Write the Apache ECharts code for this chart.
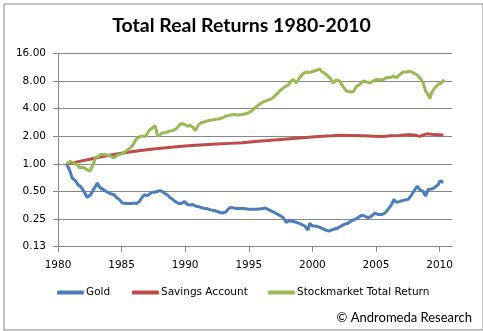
<!DOCTYPE html>
<html>
<head>
<meta charset="utf-8">
<script src="https://cdn.jsdelivr.net/npm/echarts@6/dist/echarts.min.js"></script>
<style>
html,body{margin:0;padding:0;background:#fff;}
#chart{width:483px;height:331px;}
</style>
</head>
<body>
<div id="chart"></div>
<script>
// ---- Data ----
const titleText = "Total Real Returns 1980-2010";
const seriesNames = ["Gold", "Savings Account", "Stockmarket Total Return"];
const creditText = "\u00A9 Andromeda Research";

const goldYears = [1980.68,1980.8,1980.94,1981.12,1981.25,1981.39,1981.57,1981.75,1981.9,1982.04,1982.18,1982.3,1982.44,1982.56,1982.77,1982.95,1983.09,1983.2,1983.3,1983.5,1983.7,1984.0,1984.2,1984.4,1984.6,1984.8,1985.06,1985.2,1985.4,1985.6,1985.8,1986.0,1986.2,1986.4,1986.6,1986.8,1987.0,1987.2,1987.4,1987.6,1987.8,1988.0,1988.2,1988.4,1988.6,1988.8,1989.0,1989.2,1989.5,1989.7,1989.93,1990.05,1990.2,1990.4,1990.6,1990.85,1991.1,1991.37,1991.7,1992.0,1992.3,1992.6,1992.94,1993.2,1993.47,1993.65,1993.8,1994.0,1994.25,1994.6,1995.0,1995.3,1995.6,1995.99,1996.25,1996.5,1996.9,1997.3,1997.7,1997.95,1998.2,1998.5,1998.87,1999.1,1999.4,1999.65,1999.8,2000.0,2000.2,2000.5,2000.83,2001.05,2001.28,2001.5,2001.75,2002.0,2002.25,2002.54,2002.8,2003.06,2003.34,2003.6,2003.87,2004.1,2004.39,2004.65,2004.92,2005.2,2005.44,2005.7,2005.96,2006.23,2006.41,2006.6,2006.88,2007.15,2007.54,2007.8,2008.06,2008.24,2008.45,2008.7,2008.9,2009.1,2009.35,2009.6,2009.9,2010.03,2010.3];
const goldValues = [1.00,0.92,0.83,0.70,0.68,0.65,0.59,0.57,0.55,0.50,0.46,0.43,0.41,0.46,0.52,0.57,0.62,0.58,0.55,0.53,0.51,0.48,0.47,0.46,0.43,0.41,0.375,0.36,0.37,0.37,0.37,0.375,0.37,0.39,0.43,0.46,0.45,0.47,0.49,0.49,0.50,0.51,0.50,0.475,0.46,0.43,0.41,0.39,0.37,0.37,0.39,0.40,0.36,0.355,0.36,0.345,0.34,0.33,0.325,0.315,0.31,0.30,0.29,0.30,0.33,0.335,0.32,0.325,0.325,0.325,0.32,0.32,0.32,0.323,0.33,0.32,0.30,0.28,0.26,0.23,0.24,0.235,0.227,0.22,0.21,0.19,0.225,0.21,0.21,0.205,0.196,0.19,0.185,0.19,0.195,0.20,0.21,0.22,0.225,0.24,0.247,0.26,0.275,0.27,0.258,0.27,0.29,0.28,0.28,0.29,0.32,0.36,0.41,0.38,0.39,0.40,0.41,0.46,0.525,0.57,0.52,0.50,0.445,0.525,0.53,0.55,0.595,0.65,0.63];

const savingsYears = [1980.68,1981.5,1982.5,1983.5,1984.5,1985.5,1986.5,1987.5,1988.5,1989.5,1990.5,1991.5,1992.5,1993.5,1994.5,1995.5,1996.5,1997.5,1998.5,1999.5,2000.5,2001.5,2002.2,2003.0,2004.0,2004.8,2005.5,2006.2,2006.8,2007.5,2008.0,2008.45,2008.8,2009.0,2009.6,2010.3];
const savingsValues = [1.00,1.05,1.12,1.20,1.27,1.34,1.40,1.45,1.50,1.54,1.58,1.61,1.64,1.67,1.70,1.75,1.79,1.84,1.89,1.94,1.98,2.02,2.05,2.04,2.02,2.00,1.98,2.02,2.04,2.07,2.06,1.99,2.08,2.12,2.08,2.06];

const stockYears = [1980.68,1980.94,1981.2,1981.52,1981.73,1981.95,1982.25,1982.5,1982.7,1982.96,1983.15,1983.35,1983.74,1984.13,1984.4,1984.66,1984.9,1985.19,1985.45,1985.7,1985.95,1986.13,1986.3,1986.5,1986.9,1987.18,1987.44,1987.62,1987.72,1987.83,1988.0,1988.2,1988.5,1988.75,1989.0,1989.28,1989.5,1989.67,1989.9,1990.19,1990.4,1990.6,1990.8,1991.0,1991.24,1991.5,1991.76,1992.1,1992.4,1992.7,1993.0,1993.34,1993.6,1993.85,1994.1,1994.5,1994.9,1995.2,1995.46,1995.72,1995.99,1996.25,1996.51,1996.77,1997.03,1997.3,1997.56,1997.82,1998.08,1998.34,1998.5,1998.74,1999.0,1999.26,1999.52,1999.8,2000.05,2000.31,2000.57,2000.7,2000.83,2001.1,2001.36,2001.5,2001.62,2001.88,2002.14,2002.4,2002.67,2002.82,2003.08,2003.25,2003.48,2003.74,2004.0,2004.25,2004.52,2004.79,2005.05,2005.3,2005.57,2005.83,2006.1,2006.36,2006.62,2006.88,2007.14,2007.4,2007.67,2007.93,2008.19,2008.45,2008.72,2008.9,2009.1,2009.24,2009.37,2009.63,2009.9,2010.16,2010.34];
const stockValues = [1.00,1.06,1.03,0.97,0.90,0.92,0.87,0.83,0.94,1.16,1.20,1.26,1.26,1.21,1.16,1.24,1.27,1.32,1.41,1.50,1.65,1.84,1.92,2.00,2.00,2.32,2.47,2.62,2.35,2.00,2.05,2.18,2.20,2.27,2.30,2.40,2.60,2.75,2.70,2.57,2.62,2.50,2.30,2.60,2.80,2.85,2.95,3.00,3.05,3.10,3.20,3.35,3.40,3.45,3.40,3.45,3.55,3.75,4.05,4.33,4.6,4.8,4.95,5.11,5.47,5.94,6.46,6.9,7.16,7.98,8.3,7.6,8.7,9.6,10.0,9.9,10.2,10.4,10.85,10.2,10.0,9.4,8.7,8.3,7.6,8.2,8.0,7.0,6.2,6.46,6.05,6.2,7.0,7.33,7.98,7.8,7.6,8.0,8.3,8.2,8.3,8.7,8.7,9.0,8.7,9.4,10.0,10.0,10.2,9.8,9.4,8.7,7.6,6.2,5.7,5.1,5.94,6.74,7.33,7.6,8.3];

const xMin = 1980, xMax = 2011, xStep = 5;
const yMin = 0.125, yMax = 16;

// ---- Chart ----
const colors = ["#4A7EBB", "#BE4B48", "#98B954"];
const pair = (xs, ys) => xs.map((x, i) => [x, ys[i]]);
const labelFont = "DejaVu Sans";
const legendLefts = [57, 132, 268];

const chart = echarts.init(document.getElementById("chart"), null, {renderer: "canvas"});
chart.setOption({
  animation: false,
  backgroundColor: "#ffffff",
  color: colors,
  title: {
    text: titleText,
    left: "center",
    top: 11,
    textStyle: {fontFamily: "Lato", fontWeight: "bold", fontSize: 19.5, color: "#000"}
  },
  grid: {left: 58, top: 53.3, right: 30.7, bottom: 84.3, containLabel: false},
  xAxis: {
    type: "value", min: xMin, max: xMax, interval: xStep,
    splitLine: {show: false},
    axisLine: {lineStyle: {color: "#868686", width: 1}},
    axisTick: {show: true, length: 5, lineStyle: {color: "#868686"}},
    axisLabel: {margin: 13, fontFamily: labelFont, fontSize: 10.5, color: "#000", showMaxLabel: false,
      formatter: v => String(v)}
  },
  yAxis: {
    type: "log", logBase: 2, min: yMin, max: yMax,
    splitLine: {show: true, lineStyle: {color: "#868686", width: 1}},
    axisLine: {show: true, lineStyle: {color: "#868686", width: 1}},
    axisTick: {show: true, length: 5, lineStyle: {color: "#868686"}},
    axisLabel: {margin: 12, fontFamily: labelFont, fontSize: 10.5, color: "#000",
      formatter: v => Number(v).toFixed(2)}
  },
  legend: seriesNames.map((n, i) => ({
    data: [n],
    left: legendLefts[i], top: 287, padding: 0,
    itemWidth: 27, itemHeight: 4, itemGap: 0,
    icon: "roundRect",
    textStyle: {fontFamily: labelFont, fontSize: 10.5, color: "#000", padding: [0, 0, 0, -3]}
  })),
  graphic: [
    {type: "rect", left: 1.5, top: 1.5, shape: {width: 479, height: 326},
     style: {fill: "none", stroke: "#878787", lineWidth: 1}, silent: true},
    {type: "text", right: 11, top: 311,
     style: {text: creditText, font: "13px 'Lato'", fill: "#000"}}
  ],
  series: [
    {name: seriesNames[0], type: "line", data: pair(goldYears, goldValues), showSymbol: false,
     lineStyle: {width: 3, color: colors[0]}, itemStyle: {color: colors[0]}},
    {name: seriesNames[1], type: "line", data: pair(savingsYears, savingsValues), showSymbol: false,
     lineStyle: {width: 3, color: colors[1]}, itemStyle: {color: colors[1]}},
    {name: seriesNames[2], type: "line", data: pair(stockYears, stockValues), showSymbol: false,
     lineStyle: {width: 3, color: colors[2]}, itemStyle: {color: colors[2]}}
  ]
});
</script>
</body>
</html>
